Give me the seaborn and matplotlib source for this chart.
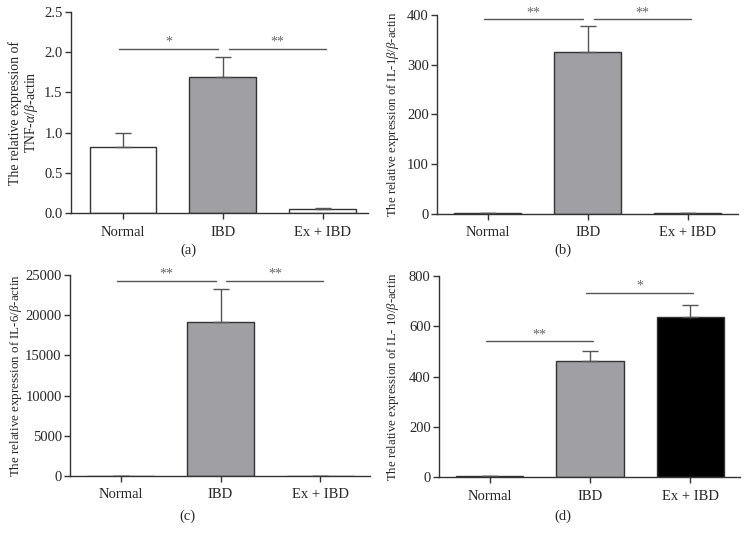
import pandas as pd
import seaborn as sns
import matplotlib.pyplot as plt

# dados (média e erro superior)
groups = ['Normal', 'IBD', 'Ex + IBD']

tnf_mean = [0.82, 1.69, 0.05]
tnf_err = [0.17, 0.25, 0.01]

il1b_mean = [2, 325, 1]
il1b_err = [0.5, 53, 0.3]

il6_mean = [10, 19100, 5]
il6_err = [3, 4200, 2]

il10_mean = [5, 462, 638]
il10_err = [1, 38, 45]

# comparações: (grupo i, grupo j, altura da linha, texto)
tnf_sig = [(0, 1, 2.04, '*'), (1, 2, 2.04, '**')]
il1b_sig = [(0, 1, 391, '**'), (1, 2, 391, '**')]
il6_sig = [(0, 1, 24250, '**'), (1, 2, 24250, '**')]
il10_sig = [(0, 1, 540, '**'), (1, 2, 733, '*')]

sns.set_theme(style="white")
plt.rcParams['font.family'] = ['Liberation Serif', 'DejaVu Serif']
plt.rcParams['mathtext.fontset'] = 'custom'
plt.rcParams['mathtext.rm'] = 'Liberation Serif'
plt.rcParams['mathtext.it'] = 'Liberation Serif:italic'

gray = '#a0a0a4'
edge = '#333333'
linec = '#555555'

fig = plt.figure(figsize=(7.49, 5.42), dpi=100)

panels = [
    dict(mean=tnf_mean, err=tnf_err, sig=tnf_sig, colors=['white', gray, 'white'],
         ylim=(0, 2.5), yticks=[0, 0.5, 1.0, 1.5, 2.0, 2.5], fmt='{:.1f}',
         ylabel='The relative expression of\nTNF-$\\alpha$/$\\beta$-actin', ylfs=9.9,
         rect=[0.0948, 0.6070, 0.3965, 0.3709], xlim=(-0.52, 2.45),
         lab='(a)', labx=0.251, laby=0.538, ylc=-0.105),
    dict(mean=il1b_mean, err=il1b_err, sig=il1b_sig, colors=['white', gray, 'white'],
         ylim=(0, 400), yticks=[0, 100, 200, 300, 400], fmt='{:.0f}',
         ylabel='The relative expression of IL-1$\\beta$/$\\beta$-actin', ylfs=9.2,
         rect=[0.5834, 0.6052, 0.4019, 0.3671], xlim=(-0.51, 2.5),
         lab='(b)', labx=0.752, laby=0.538, ylc=-0.12),
    dict(mean=il6_mean, err=il6_err, sig=il6_sig, colors=['white', gray, 'white'],
         ylim=(0, 25000), yticks=[0, 5000, 10000, 15000, 20000, 25000], fmt='{:.0f}',
         ylabel='The relative expression of IL-6/$\\beta$-actin', ylfs=9.4,
         rect=[0.0935, 0.1218, 0.4005, 0.3708], xlim=(-0.51, 2.5),
         lab='(c)', labx=0.250, laby=0.048, ylc=-0.155),
    dict(mean=il10_mean, err=il10_err, sig=il10_sig, colors=['white', gray, 'black'],
         ylim=(0, 800), yticks=[0, 200, 400, 600, 800], fmt='{:.0f}',
         ylabel='The relative expression of IL- 10/$\\beta$-actin', ylfs=9.2,
         rect=[0.5861, 0.1199, 0.4019, 0.3709], xlim=(-0.51, 2.5),
         lab='(d)', labx=0.752, laby=0.048, ylc=-0.126),
]

for p in panels:
    ax = fig.add_axes(p['rect'])
    df = pd.DataFrame({'Grupo': groups, 'Valor': p['mean']})
    sns.barplot(data=df, x='Grupo', y='Valor', hue='Grupo', palette=p['colors'],
                edgecolor=edge, linewidth=1.0, width=0.67, legend=False,
                errorbar=None, ax=ax)
    # barra de erro só para cima
    ax.errorbar(range(len(groups)), p['mean'], yerr=[[0] * len(groups), p['err']],
                fmt='none', ecolor=linec, elinewidth=1.0, capsize=6, capthick=1.0)

    # linhas de significância
    ys = [s[2] for s in p['sig']]
    for i, j, y, txt in p['sig']:
        x1, x2 = i - 0.04, j + 0.03
        if ys.count(y) > 1:
            if any(s[0] == j and s[2] == y for s in p['sig']):
                x2 = j - 0.05
            if any(s[1] == i and s[2] == y for s in p['sig']):
                x1 = i + 0.06
        ax.plot([x1, x2], [y, y], color=linec, lw=1.0)
        ax.text((x1 + x2) / 2, y, txt, ha='center', va='bottom', fontsize=10,
                color='#666666')

    ax.set_xlim(*p['xlim'])
    ax.set_ylim(*p['ylim'])
    ax.set_yticks(p['yticks'])
    ax.set_yticklabels([p['fmt'].format(v) for v in p['yticks']])
    ax.set_xlabel('')
    ax.set_ylabel(p['ylabel'], fontsize=p['ylfs'], linespacing=1.1)
    ax.yaxis.set_label_coords(p['ylc'], 0.5)
    sns.despine(ax=ax)
    for s in ['left', 'bottom']:
        ax.spines[s].set_color(edge)
        ax.spines[s].set_linewidth(1.0)
    ax.tick_params(axis='both', direction='out', length=4, width=1.0,
                   color=edge, labelsize=10.5, pad=2, left=True, bottom=True)
    ax.tick_params(axis='x', pad=5)
    fig.text(p['labx'], p['laby'], p['lab'], ha='center', va='center', fontsize=10.5)

fig.savefig('out.png', dpi=100)
